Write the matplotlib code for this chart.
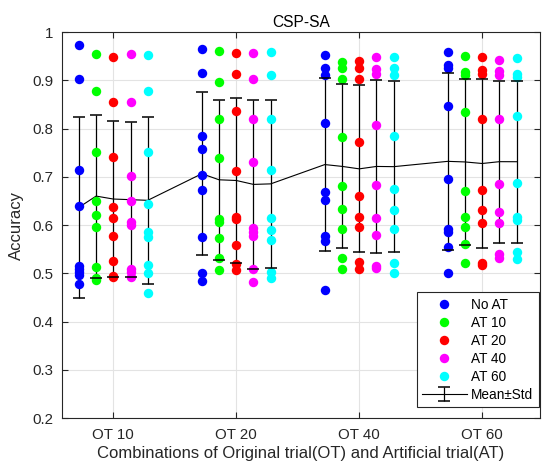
import numpy as np
import matplotlib.pyplot as plt
from matplotlib.lines import Line2D

plt.rcParams['font.family'] = ['Liberation Sans', 'DejaVu Sans']

groups = ['OT 10', 'OT 20', 'OT 40', 'OT 60']
series_names = ['No AT', 'AT 10', 'AT 20', 'AT 40', 'AT 60']
colors = ['#0000ff', '#00ff00', '#ff0000', '#ff00ff', '#00ffff']

# accuracy of each subject, one list per series (No AT, AT 10, AT 20, AT 40, AT 60)
acc_ot10 = [
    [0.973, 0.903, 0.715, 0.639, 0.515, 0.510, 0.503, 0.496, 0.479],
    [0.954, 0.878, 0.752, 0.651, 0.622, 0.596, 0.514, 0.490, 0.486],
    [0.949, 0.856, 0.742, 0.638, 0.614, 0.577, 0.525, 0.495, 0.492],
    [0.954, 0.856, 0.703, 0.651, 0.606, 0.600, 0.510, 0.503, 0.493],
    [0.952, 0.878, 0.752, 0.643, 0.586, 0.576, 0.517, 0.500, 0.460],
]
acc_ot20 = [
    [0.965, 0.916, 0.784, 0.758, 0.704, 0.672, 0.576, 0.500, 0.485],
    [0.961, 0.896, 0.820, 0.739, 0.612, 0.607, 0.574, 0.531, 0.507],
    [0.957, 0.914, 0.836, 0.713, 0.617, 0.612, 0.558, 0.520, 0.507],
    [0.956, 0.904, 0.820, 0.731, 0.595, 0.585, 0.578, 0.510, 0.482],
    [0.958, 0.911, 0.821, 0.714, 0.614, 0.591, 0.569, 0.503, 0.490],
]
acc_ot40 = [
    [0.952, 0.926, 0.912, 0.812, 0.668, 0.652, 0.577, 0.567, 0.465],
    [0.938, 0.925, 0.902, 0.783, 0.681, 0.633, 0.593, 0.533, 0.509],
    [0.941, 0.925, 0.904, 0.773, 0.661, 0.617, 0.596, 0.524, 0.510],
    [0.949, 0.923, 0.914, 0.807, 0.683, 0.614, 0.579, 0.515, 0.512],
    [0.949, 0.926, 0.912, 0.784, 0.675, 0.631, 0.593, 0.521, 0.501],
]
acc_ot60 = [
    [0.958, 0.933, 0.925, 0.847, 0.695, 0.593, 0.585, 0.555, 0.500],
    [0.950, 0.918, 0.912, 0.835, 0.670, 0.616, 0.596, 0.562, 0.521],
    [0.949, 0.921, 0.913, 0.820, 0.673, 0.632, 0.604, 0.522, 0.517],
    [0.943, 0.919, 0.911, 0.821, 0.686, 0.628, 0.605, 0.541, 0.531],
    [0.947, 0.914, 0.907, 0.827, 0.688, 0.617, 0.610, 0.545, 0.529],
]
all_acc = [acc_ot10, acc_ot20, acc_ot40, acc_ot60]
offsets = [-0.28, -0.14, 0.0, 0.14, 0.28]

dark = '#262626'
fig = plt.figure(figsize=(5.42, 4.68), dpi=100)
ax = fig.add_axes([0.1138, 0.1064, 0.8825, 0.8248])

xs, means, stds = [], [], []
for g, group_acc in enumerate(all_acc):
    for s, vals in enumerate(group_acc):
        x = g + 1 + offsets[s]
        vals = np.array(vals)
        ax.plot(np.full(len(vals), x), vals, 'o', color=colors[s],
                markersize=6.8, markeredgewidth=0, zorder=3)
        xs.append(x)
        means.append(vals.mean())
        stds.append(vals.std(ddof=1))

# mean line through every series, with +/- one standard deviation
eb = ax.errorbar(xs, means, yerr=stds, fmt='-', color='black', linewidth=0.8,
                 elinewidth=0.9, capsize=4.5, capthick=1.1, zorder=2)
for cap in eb[1]:
    cap.set_zorder(4)

ax.set_xlim(0.58, 4.47)
ax.set_ylim(0.2, 1.0)
ax.set_xticks([1, 2, 3, 4])
ax.set_xticklabels(groups)
ax.set_yticks(np.arange(0.2, 1.01, 0.1))
ax.set_yticklabels(['0.2', '0.3', '0.4', '0.5', '0.6', '0.7', '0.8', '0.9', '1'])
ax.tick_params(direction='in', length=4, width=0.8, colors=dark, labelsize=10.8,
               top=True, right=True)
ax.tick_params(axis='x', pad=7)
ax.tick_params(axis='y', pad=6)
ax.grid(True, color='#e3e3e3', linewidth=0.8)
ax.set_axisbelow(True)
for sp in ax.spines.values():
    sp.set_color(dark)
    sp.set_linewidth(0.8)

ax.set_title('CSP-SA', fontsize=11.2, color='black', pad=4)
ax.set_xlabel('Combinations of Original trial(OT) and Artificial trial(AT)',
              fontsize=12, color=dark, labelpad=3)
ax.set_ylabel('Accuracy', fontsize=12, color=dark, labelpad=6)

handles = [Line2D([], [], linestyle='none', marker='o', color=c,
                  markersize=6.8, markeredgewidth=0) for c in colors]
handles.append(eb)
leg = ax.legend(handles, series_names + ['Mean\u00b1Std'], loc='lower right',
                bbox_to_anchor=(0.997, 0.028), borderaxespad=0,
                fontsize=9.8, frameon=True, fancybox=False, framealpha=1,
                edgecolor=dark, handlelength=3.3, handletextpad=0.3,
                labelspacing=0.3, borderpad=0.4)
leg.get_frame().set_linewidth(0.8)

fig.savefig('out.png', dpi=100)
